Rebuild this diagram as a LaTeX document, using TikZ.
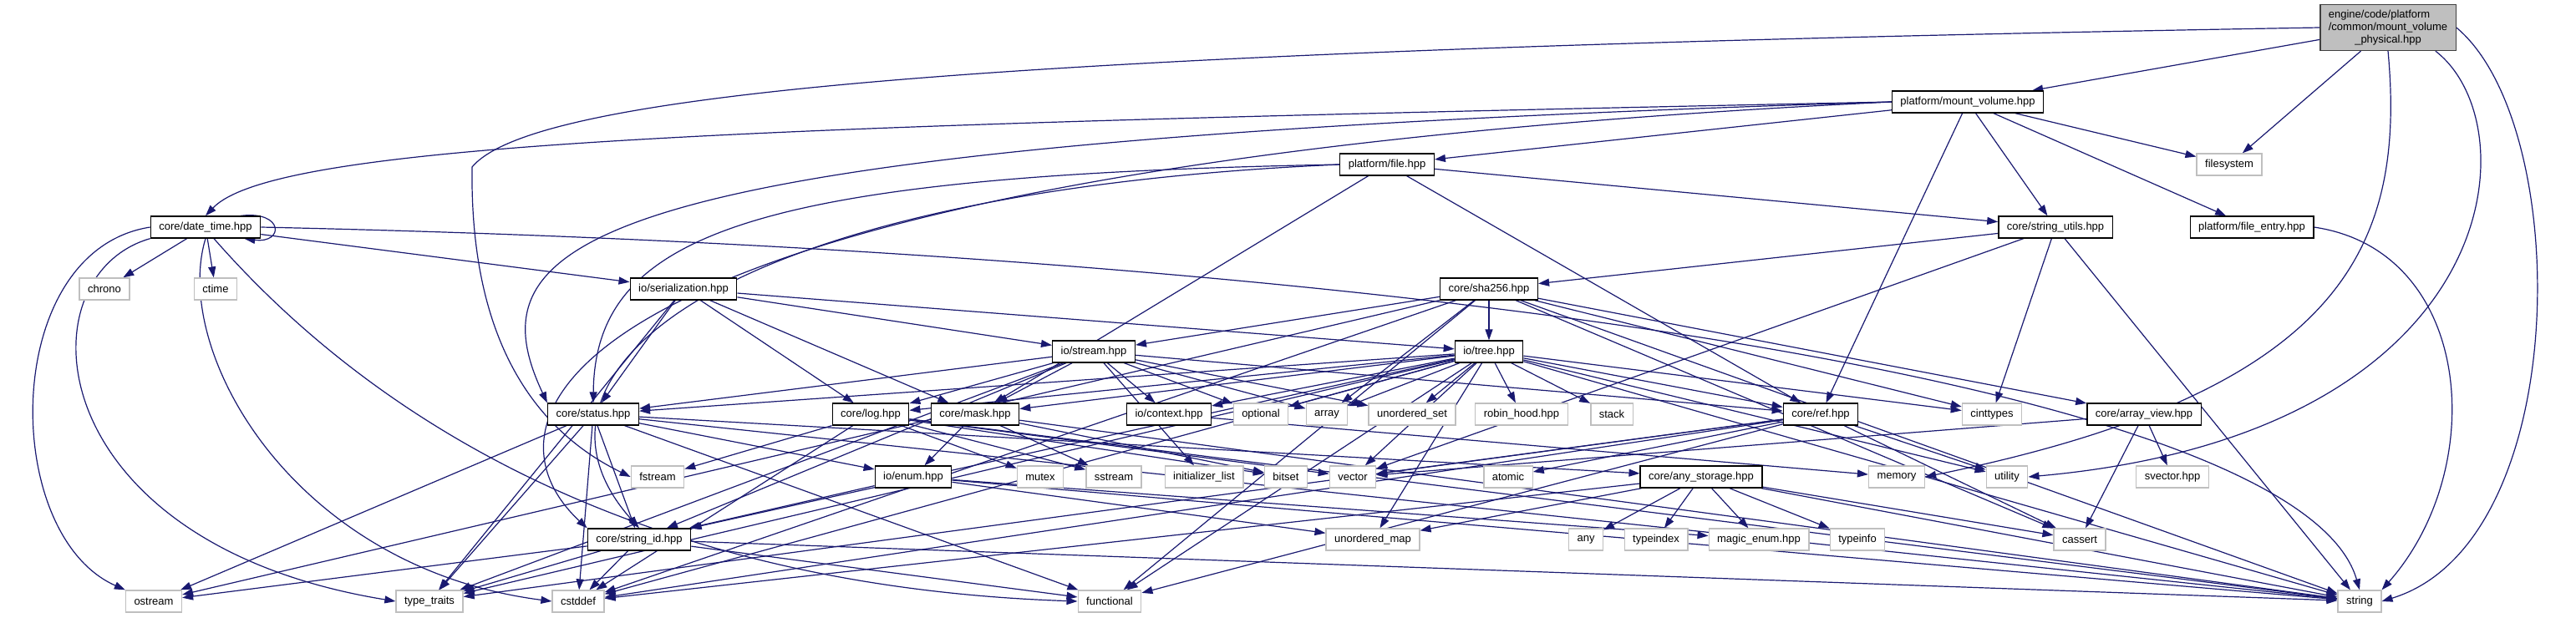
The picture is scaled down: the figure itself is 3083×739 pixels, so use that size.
\documentclass[tikz,border=0pt]{standalone}
\usepackage{fontspec}
\setmainfont{Liberation Sans}
\usetikzlibrary{arrows.meta}
\pgfdeclarelayer{background}
\pgfsetlayers{background,main}

\definecolor{edgeblue}{HTML}{191970}
\definecolor{sysgray}{HTML}{BFBFBF}
\definecolor{rootfill}{HTML}{BFBFBF}
\definecolor{rootline}{HTML}{404040}

\begin{document}
\begin{tikzpicture}[
    x=1pt, y=-1pt,
    hdr/.style={draw=black, fill=white, line width=1.3pt, font=\fontsize{13}{15}\selectfont,
        minimum height=26pt, inner xsep=10pt, inner ysep=2pt},
    sys/.style={hdr, draw=sysgray},
    rootbox/.style={hdr, fill=rootfill, draw=rootline, minimum height=55pt, inner xsep=10pt},
    dep/.style={draw=edgeblue, line width=1.2pt, -{Triangle[length=13pt, width=9pt]}},
]
\useasboundingbox (0,0) rectangle (3083,739);

% headers of the project
\node[rootbox] (root) at (2858,33) {\begin{tabular}{@{}l@{}}engine/code/platform\\/common/mount\_volume\\\multicolumn{1}{@{}c@{}}{\_physical.hpp}\end{tabular}};
\node[hdr] (mvol) at (2355,122) {platform/mount\_volume.hpp};
\node[hdr] (pfile) at (1660,197) {platform/file.hpp};
\node[hdr] (dtime) at (246,272) {core/date\_time.hpp};
\node[hdr] (strutil) at (2460,272) {core/string\_utils.hpp};
\node[hdr] (fentry) at (2695,272) {platform/file\_entry.hpp};
\node[hdr] (ser) at (818,346) {io/serialization.hpp};
\node[hdr] (sha) at (1782,346) {core/sha256.hpp};
\node[hdr] (stream) at (1309,421) {io/stream.hpp};
\node[hdr] (tree) at (1782,421) {io/tree.hpp};
\node[hdr] (status) at (710,496) {core/status.hpp};
\node[hdr] (log) at (1042,496) {core/log.hpp};
\node[hdr] (mask) at (1167,496) {core/mask.hpp};
\node[hdr] (ctx) at (1399,496) {io/context.hpp};
\node[hdr] (ref) at (2179,496) {core/ref.hpp};
\node[hdr] (aview) at (2566,496) {core/array\_view.hpp};
\node[hdr] (enum) at (1093,571) {io/enum.hpp};
\node[hdr] (anystor) at (2036,571) {core/any\_storage.hpp};
\node[hdr] (strid) at (765,646) {core/string\_id.hpp};

% system headers
\node[sys] (fsys) at (2668,197) {filesystem};
\node[sys] (chrono) at (125,346) {chrono};
\node[sys] (ctime) at (258,346) {ctime};
\node[sys] (optional) at (1509,496) {optional};
\node[sys] (array) at (1588,496) {array};
\node[sys] (uset) at (1690,496) {unordered\_set};
\node[sys] (robin) at (1821,496) {robin\_hood.hpp};
\node[sys] (stack) at (1929,496) {stack};
\node[sys] (cinttypes) at (2384,496) {cinttypes};
\node[sys] (fstream) at (787,571) {fstream};
\node[sys] (mutex) at (1245,571) {mutex};
\node[sys] (sstream) at (1333,571) {sstream};
\node[sys] (initlist) at (1441,571) {initializer\_list};
\node[sys] (bitset) at (1539,571) {bitset};
\node[sys] (vector) at (1619,571) {vector};
\node[sys] (atomic) at (1805,571) {atomic};
\node[sys] (memory) at (2270,571) {memory};
\node[sys] (utility) at (2402,571) {utility};
\node[sys] (svector) at (2600,571) {svector.hpp};
\node[sys] (umap) at (1643,646) {unordered\_map};
\node[sys] (any) at (1898,646) {any};
\node[sys] (typeindex) at (1982,646) {typeindex};
\node[sys] (magicenum) at (2105,646) {magic\_enum.hpp};
\node[sys] (typeinfo) at (2223,646) {typeinfo};
\node[sys] (cassert) at (2489,646) {cassert};
\node[sys] (ostream) at (184,720) {ostream};
\node[sys] (typetraits) at (514,720) {type\_traits};
\node[sys] (cstddef) at (692,720) {cstddef};
\node[sys] (functional) at (1328,720) {functional};
\node[sys] (string) at (2824,720) {string};

\begin{pgfonlayer}{background}
\foreach \src/\dst in {
    root/mvol, root/fsys,
    mvol/pfile, mvol/fsys, mvol/strutil, mvol/fentry, mvol/ref,
    pfile/mask, pfile/ref, pfile/strutil,
    strutil/sha, strutil/cinttypes, strutil/vector, strutil/string,
    dtime/chrono, dtime/ctime, dtime/ser,
    ser/status, ser/log, ser/mask, ser/stream, ser/tree, ser/typetraits,
    sha/stream, sha/tree, sha/array, sha/ostream, sha/cstddef, sha/cinttypes,
    sha/aview, sha/string, sha/cassert, sha/functional,
    stream/log, stream/mask, stream/ctx, stream/optional, stream/status, stream/strid,
    stream/initlist, stream/array, stream/uset, stream/ref, stream/typetraits,
    tree/status, tree/log, tree/mask, tree/ctx, tree/optional, tree/array, tree/uset,
    tree/robin, tree/stack, tree/ref, tree/cinttypes, tree/utility, tree/vector,
    tree/umap, tree/strid, tree/typetraits, tree/cstddef, tree/functional, tree/string,
    status/ostream, status/typetraits, status/cstddef, status/strid, status/functional,
    status/enum, status/anystor, status/string,
    log/fstream, log/mutex, log/sstream, log/cstddef, log/bitset, log/vector, log/string,
    mask/enum, mask/sstream, mask/bitset, mask/string,
    ctx/memory,
    enum/strid, enum/umap, enum/magicenum, enum/string,
    strid/ostream, strid/typetraits, strid/cstddef, strid/functional, strid/string,
    ref/vector, ref/atomic, ref/utility, ref/cassert, ref/typetraits, ref/cstddef, ref/functional,
    anystor/umap, anystor/any, anystor/typeindex, anystor/magicenum, anystor/typeinfo,
    anystor/cassert, anystor/string, anystor/cstddef,
    aview/svector, aview/cassert, aview/vector} {
    \draw[dep] (\src) -- (\dst);
}

% long curved edges
\draw[dep] (root.west) .. controls (1200,60) and (640,110) .. (565,200)
    .. controls (562,420) and (650,520) .. (fstream.west);
\draw[dep] (root.south) .. controls (2880,300) and (2800,470) .. (memory.east);
\draw[dep] ([xshift=-25pt]root.south east) .. controls (3030,150) and (3000,520) .. (utility.east);
\draw[dep] (root.east) .. controls (3080,150) and (3080,650) .. (string.east);
\draw[dep] (fentry.east) .. controls (2960,300) and (2980,560) .. (string.north east);
\draw[dep] (mvol.west) .. controls (900,150) and (330,170) .. (dtime.north);
\draw[dep] (mvol.west) .. controls (700,170) and (560,280) .. (status.north west);
\draw[dep] (mvol.west) .. controls (650,200) and (560,500) .. (strid.north west);
\draw[dep] (pfile.west) .. controls (900,210) and (712,280) .. (status.north);
\draw[dep] (pfile.west) .. controls (850,230) and (600,450) .. (strid.north);
\draw[dep] (dtime.west) .. controls (0,300) and (0,640) .. (ostream.north west);
\draw[dep] (dtime.south west) .. controls (25,330) and (45,650) .. (typetraits.west);
\draw[dep] (dtime.south) .. controls (205,420) and (350,680) .. (cstddef.west);
\draw[dep] ([xshift=10pt]dtime.south) .. controls (400,450) and (700,700) .. (functional.west);
\draw[dep] (dtime.east) .. controls (1600,300) and (2750,450) .. (string.north);
\draw[dep] ([xshift=-24pt]dtime.north east) .. controls (340,252) and (340,292) .. ([xshift=-20pt]dtime.south east);
\end{pgfonlayer}
\end{tikzpicture}
\end{document}
